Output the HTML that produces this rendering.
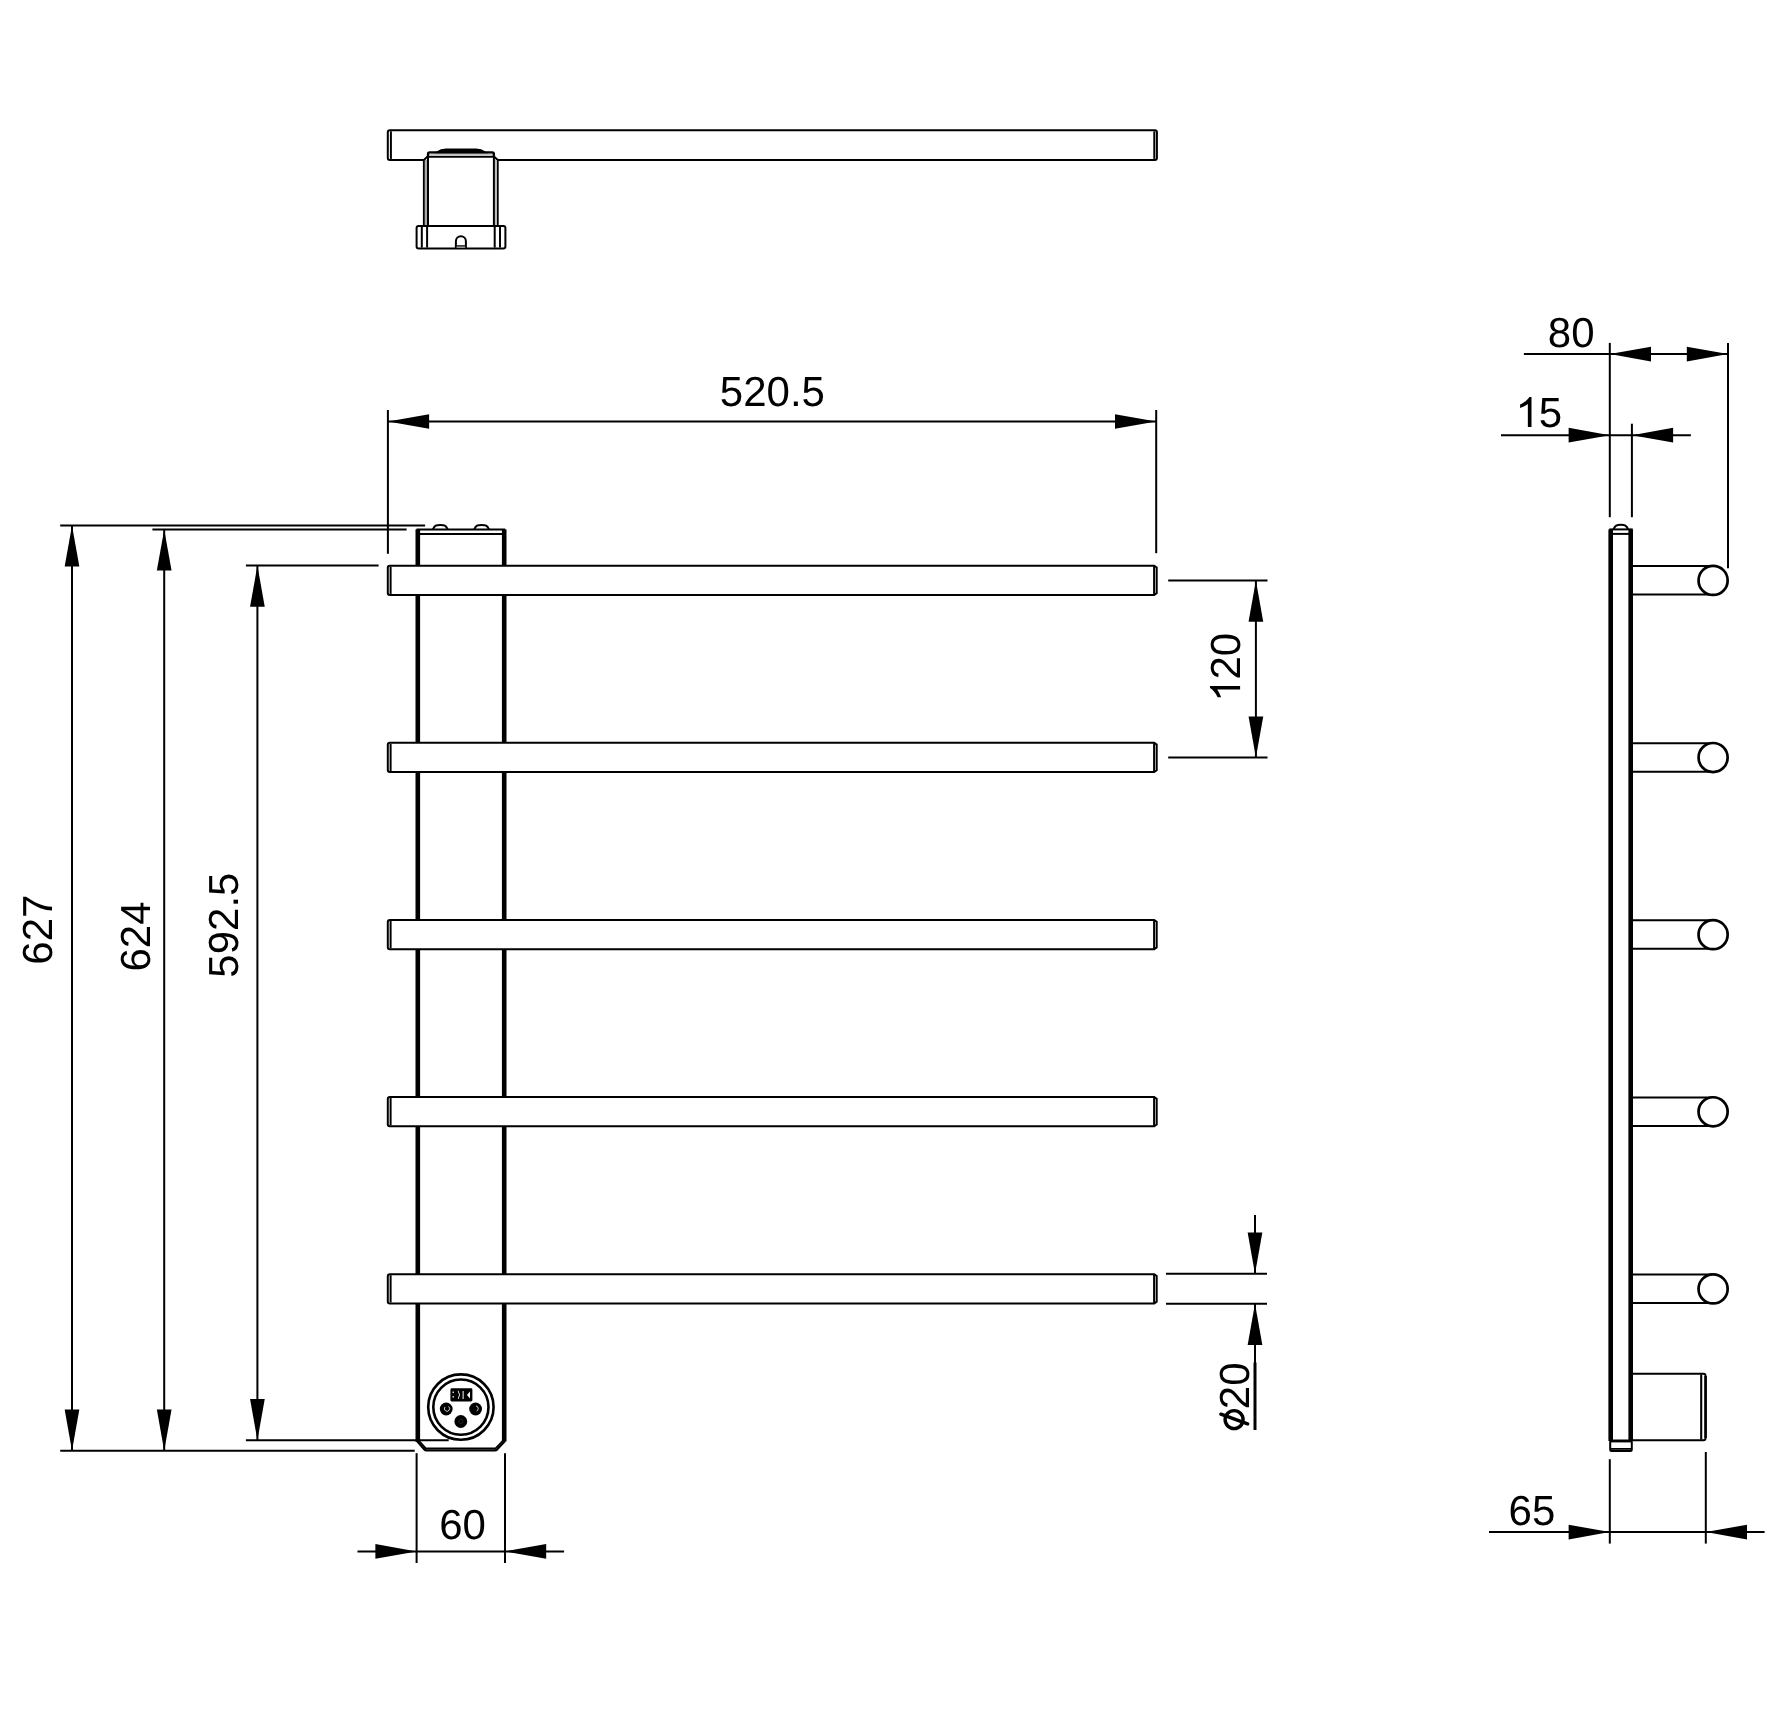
<!DOCTYPE html>
<html><head><meta charset="utf-8"><title>Drawing</title>
<style>
html,body{margin:0;padding:0;background:#fff;}
svg{display:block;}
svg line{stroke:#000;}
svg{stroke-width:2.0;}
.o{fill:none;stroke:#000;}
.f{fill:#000;stroke:none;}
text{font-family:"Liberation Sans",sans-serif;font-size:42px;fill:#000;text-rendering:geometricPrecision;}
</style></head>
<body>
<svg style="will-change:transform" width="1770" height="1711" viewBox="0 0 1770 1711">
<rect x="0" y="0" width="1770" height="1711" fill="#fff"/>
<path d="M389.8,130.3 H1154.9 Q1156.9,130.3 1156.9,132.3 V157.9 Q1156.9,159.9 1154.9,159.9 H389.8 Q387.8,159.9 387.8,157.9 V132.3 Q387.8,130.3 389.8,130.3 Z" class="o"/>
<line x1="390.90" y1="131.30" x2="390.90" y2="158.90" stroke-width="2.0"/>
<line x1="1154.30" y1="131.30" x2="1154.30" y2="158.90" stroke-width="2.0"/>
<rect x="425" y="150" width="72" height="77" fill="#fff" stroke="none"/>
<path d="M423.9,226 V160 L427.6,156.6" class="o"/>
<path d="M497.7,226 V160 L494.2,156.6" class="o"/>
<rect x="424.8" y="160" width="2.3" height="66" fill="#a8a8a8"/>
<rect x="494.8" y="160" width="2.0" height="66" fill="#bdbdbd"/>
<rect x="429" y="153.4" width="64" height="2.6" fill="#c4c4c4"/>
<line x1="428.00" y1="153.50" x2="428.00" y2="226.00" stroke-width="2.0"/>
<line x1="493.90" y1="153.50" x2="493.90" y2="226.00" stroke-width="2.0"/>
<path d="M428.0,157 V154 Q428.0,152.3 429.7,152.3 H492.2 Q493.9,152.3 493.9,154 V157" class="o" stroke-width="2.3"/>
<line x1="428.00" y1="156.90" x2="493.90" y2="156.90" stroke-width="1.8"/>
<path d="M436.5,152.4 Q441,149.2 446,149.2 H476 Q481,149.2 485.5,152.4 Z" fill="#000" stroke="#000" stroke-width="1.5"/>
<line x1="446" y1="151.2" x2="476" y2="151.2" stroke="#444" stroke-width="0.8"/>
<rect x="416.6" y="226.1" width="88.8" height="22.4" rx="2" class="o"/>
<line x1="421.80" y1="227.00" x2="421.80" y2="247.60" stroke-width="2.0"/>
<line x1="427.10" y1="227.00" x2="427.10" y2="247.60" stroke-width="2.0"/>
<line x1="494.70" y1="227.00" x2="494.70" y2="247.60" stroke-width="2.0"/>
<line x1="500.00" y1="227.00" x2="500.00" y2="247.60" stroke-width="2.0"/>
<path d="M455.9,248.5 V241.3 A5,5 0 0 1 465.9,241.3 V248.5" class="o"/>
<line x1="456.00" y1="246.00" x2="465.80" y2="246.00" stroke-width="1.5"/>
<rect x="456.5" y="246.6" width="8.8" height="1.2" fill="#9a9a9a"/>
<rect x="415.5" y="529.4" width="4.6" height="912.6" class="f"/>
<rect x="501.9" y="529.4" width="4.6" height="912.1" class="f"/>
<line x1="416.50" y1="529.40" x2="505.20" y2="529.40" stroke-width="2.0"/>
<line x1="419.00" y1="533.90" x2="503.00" y2="533.90" stroke-width="2.0"/>
<path d="M432.90000000000003,529.4 C434.7,525.5 436.1,525.0 440.3,525.0 C444.5,525.0 445.90000000000003,525.5 447.7,529.4" class="o"/>
<path d="M474.20000000000005,529.4 C476.0,525.5 477.40000000000003,525.0 481.6,525.0 C485.8,525.0 487.20000000000005,525.5 489.0,529.4" class="o"/>
<path d="M417.0,1441.0 L424.2,1449.2 Q425.2,1450.4 426.6,1450.4 H495.0 Q496.2,1450.4 497.0,1449.6 L505.0,1441.0" class="o" stroke-width="2.2" stroke-linejoin="round"/>
<path d="M419.2,1441.0 L425.8,1448.3 H495.6 L502.6,1441.0" class="o" stroke-width="1.8"/>
<path d="M389.8,565.65 H1154.2 L1156.7,567.45 V593.15 L1154.2,594.95 H389.8 Q387.8,594.95 387.8,592.95 V567.65 Q387.8,565.65 389.8,565.65 Z" class="o" style="fill:#fff"/>
<line x1="390.60" y1="566.65" x2="390.60" y2="593.95" stroke-width="2.0"/>
<line x1="1154.10" y1="565.65" x2="1154.10" y2="594.95" stroke-width="2.0"/>
<path d="M389.8,742.78 H1154.2 L1156.7,744.58 V770.28 L1154.2,772.08 H389.8 Q387.8,772.08 387.8,770.08 V744.78 Q387.8,742.78 389.8,742.78 Z" class="o" style="fill:#fff"/>
<line x1="390.60" y1="743.78" x2="390.60" y2="771.08" stroke-width="2.0"/>
<line x1="1154.10" y1="742.78" x2="1154.10" y2="772.08" stroke-width="2.0"/>
<path d="M389.8,919.91 H1154.2 L1156.7,921.71 V947.41 L1154.2,949.21 H389.8 Q387.8,949.21 387.8,947.21 V921.91 Q387.8,919.91 389.8,919.91 Z" class="o" style="fill:#fff"/>
<line x1="390.60" y1="920.91" x2="390.60" y2="948.21" stroke-width="2.0"/>
<line x1="1154.10" y1="919.91" x2="1154.10" y2="949.21" stroke-width="2.0"/>
<path d="M389.8,1097.04 H1154.2 L1156.7,1098.84 V1124.54 L1154.2,1126.34 H389.8 Q387.8,1126.34 387.8,1124.34 V1099.04 Q387.8,1097.04 389.8,1097.04 Z" class="o" style="fill:#fff"/>
<line x1="390.60" y1="1098.04" x2="390.60" y2="1125.34" stroke-width="2.0"/>
<line x1="1154.10" y1="1097.04" x2="1154.10" y2="1126.34" stroke-width="2.0"/>
<path d="M389.8,1274.17 H1154.2 L1156.7,1275.97 V1301.67 L1154.2,1303.47 H389.8 Q387.8,1303.47 387.8,1301.47 V1276.17 Q387.8,1274.17 389.8,1274.17 Z" class="o" style="fill:#fff"/>
<line x1="390.60" y1="1275.17" x2="390.60" y2="1302.47" stroke-width="2.0"/>
<line x1="1154.10" y1="1274.17" x2="1154.10" y2="1303.47" stroke-width="2.0"/>
<circle cx="460.9" cy="1407.1" r="32.7" class="o" stroke-width="2.6"/>
<circle cx="460.9" cy="1407.1" r="27.6" class="o" stroke-width="2.6"/>
<rect x="450.4" y="1388.3" width="22.0" height="13.1" rx="1.4" class="f"/>
<g fill="#fff" stroke="none"><rect x="452.6" y="1391.5" width="1.2" height="1.6"/><rect x="452.6" y="1396" width="1.2" height="1.6"/><path d="M458.5,1390.8 L460,1394.8 L458.6,1399 L457.8,1399 L459.1,1394.8 L457.7,1390.8 Z"/><rect x="462.6" y="1391" width="1.0" height="8"/><path d="M470,1391.5 L467,1395 L470,1398.5 Z"/></g>
<circle cx="446.2" cy="1409.0" r="6.4" class="f"/>
<circle cx="475.6" cy="1409.0" r="6.4" class="f"/>
<circle cx="460.8" cy="1421.5" r="6.4" class="f"/>
<path d="M445,1407 A2.6,2.6 0 1 0 448.5,1406.5" fill="none" stroke="#fff" stroke-width="0.8"/>
<path d="M476,1406 A2.6,2.6 0 0 1 476.6,1411" fill="none" stroke="#fff" stroke-width="0.8"/>
<circle cx="460.9" cy="1421.4" r="2.3" fill="none" stroke="#333" stroke-width="0.6"/>
<rect x="1608.4" y="529.4" width="4.6" height="911.6" class="f"/>
<rect x="1628.4" y="529.4" width="4.6" height="911.6" class="f"/>
<line x1="1609.30" y1="529.40" x2="1632.70" y2="529.40" stroke-width="2.0"/>
<line x1="1612.00" y1="533.90" x2="1630.00" y2="533.90" stroke-width="2.0"/>
<path d="M1613.3999999999999,529.4 C1615.2,525.3 1616.6,524.8 1620.8,524.8 C1625.0,524.8 1626.3999999999999,525.3 1628.2,529.4" class="o"/>
<rect x="1610.2" y="1440.4" width="21.6" height="10.6" rx="1.2" class="o"/>
<line x1="1610.50" y1="1441.20" x2="1631.80" y2="1441.20" stroke-width="2.4"/>
<line x1="1611.00" y1="1448.90" x2="1631.00" y2="1448.90" stroke-width="1.8"/>
<line x1="1632.70" y1="566.10" x2="1713.00" y2="566.10" stroke-width="2.0"/>
<line x1="1632.70" y1="594.50" x2="1713.00" y2="594.50" stroke-width="2.0"/>
<circle cx="1713.1" cy="580.40" r="14.55" class="o" style="fill:#fff" stroke-width="2.7"/>
<line x1="1632.70" y1="743.23" x2="1713.00" y2="743.23" stroke-width="2.0"/>
<line x1="1632.70" y1="771.63" x2="1713.00" y2="771.63" stroke-width="2.0"/>
<circle cx="1713.1" cy="757.53" r="14.55" class="o" style="fill:#fff" stroke-width="2.7"/>
<line x1="1632.70" y1="920.36" x2="1713.00" y2="920.36" stroke-width="2.0"/>
<line x1="1632.70" y1="948.76" x2="1713.00" y2="948.76" stroke-width="2.0"/>
<circle cx="1713.1" cy="934.66" r="14.55" class="o" style="fill:#fff" stroke-width="2.7"/>
<line x1="1632.70" y1="1097.49" x2="1713.00" y2="1097.49" stroke-width="2.0"/>
<line x1="1632.70" y1="1125.89" x2="1713.00" y2="1125.89" stroke-width="2.0"/>
<circle cx="1713.1" cy="1111.79" r="14.55" class="o" style="fill:#fff" stroke-width="2.7"/>
<line x1="1632.70" y1="1274.62" x2="1713.00" y2="1274.62" stroke-width="2.0"/>
<line x1="1632.70" y1="1303.02" x2="1713.00" y2="1303.02" stroke-width="2.0"/>
<circle cx="1713.1" cy="1288.92" r="14.55" class="o" style="fill:#fff" stroke-width="2.7"/>
<path d="M1632.7,1373.8 H1703.5 Q1705.5,1373.8 1705.5,1375.8 V1438.3 Q1705.5,1440.3 1703.5,1440.3 H1632.7" class="o"/>
<line x1="1705.6" y1="1376" x2="1705.6" y2="1438" stroke-width="2.5"/>
<line x1="1701.20" y1="1374.50" x2="1701.20" y2="1439.60" stroke-width="2.1"/>
<line x1="387.90" y1="410.00" x2="387.90" y2="553.80" stroke-width="2.0"/>
<line x1="1156.20" y1="410.00" x2="1156.20" y2="553.20" stroke-width="2.0"/>
<line x1="387.90" y1="421.50" x2="1156.20" y2="421.50" stroke-width="2.0"/>
<polygon points="387.90,421.50 429.10,414.15 429.10,428.85" class="f"/>
<polygon points="1156.20,421.50 1115.00,414.15 1115.00,428.85" class="f"/>
<text x="772.40" y="405.80" text-anchor="middle">520.5</text>
<line x1="60.20" y1="525.40" x2="425.10" y2="525.40" stroke-width="2.0"/>
<line x1="60.20" y1="1450.70" x2="414.70" y2="1450.70" stroke-width="2.0"/>
<line x1="72.00" y1="525.40" x2="72.00" y2="1450.70" stroke-width="2.0"/>
<polygon points="72.00,525.40 64.65,566.60 79.35,566.60" class="f"/>
<polygon points="72.00,1450.70 64.65,1409.50 79.35,1409.50" class="f"/>
<text x="0" y="0" text-anchor="middle" transform="translate(51.80,929.70) rotate(-90)">627</text>
<line x1="152.40" y1="529.40" x2="406.60" y2="529.40" stroke-width="2.0"/>
<line x1="164.20" y1="529.40" x2="164.20" y2="1450.70" stroke-width="2.0"/>
<polygon points="164.20,529.40 156.85,570.60 171.55,570.60" class="f"/>
<polygon points="164.20,1450.70 156.85,1409.50 171.55,1409.50" class="f"/>
<text x="0" y="0" text-anchor="middle" transform="translate(150.00,936.50) rotate(-90)">624</text>
<line x1="245.90" y1="565.60" x2="378.60" y2="565.60" stroke-width="2.0"/>
<line x1="245.90" y1="1440.30" x2="448.70" y2="1440.30" stroke-width="2.0"/>
<line x1="257.40" y1="565.60" x2="257.40" y2="1440.30" stroke-width="2.0"/>
<polygon points="257.40,565.60 250.05,606.80 264.75,606.80" class="f"/>
<polygon points="257.40,1440.30 250.05,1399.10 264.75,1399.10" class="f"/>
<text x="0" y="0" text-anchor="middle" transform="translate(237.90,925.10) rotate(-90)">592.5</text>
<line x1="1168.20" y1="580.50" x2="1267.50" y2="580.50" stroke-width="2.0"/>
<line x1="1168.20" y1="757.60" x2="1267.50" y2="757.60" stroke-width="2.0"/>
<line x1="1255.90" y1="580.50" x2="1255.90" y2="757.60" stroke-width="2.0"/>
<polygon points="1255.90,580.50 1248.55,621.70 1263.25,621.70" class="f"/>
<polygon points="1255.90,757.60 1248.55,716.40 1263.25,716.40" class="f"/>
<g transform="translate(1240.10,667.90) rotate(-90)"><path d="M0.381,0 V-0.716 H0.329 C0.287,-0.65 0.207,-0.575 0.1095,-0.536 V-0.452 C0.182,-0.478 0.247,-0.512 0.294,-0.548 V0 Z" transform="translate(-34.03,0) scale(42)" class="f"/><text x="-11.68" y="0" text-anchor="start">20</text></g>
<line x1="1166.00" y1="1273.80" x2="1267.00" y2="1273.80" stroke-width="2.0"/>
<line x1="1166.00" y1="1303.80" x2="1267.00" y2="1303.80" stroke-width="2.0"/>
<line x1="1255.00" y1="1215.10" x2="1255.00" y2="1273.80" stroke-width="2.0"/>
<polygon points="1255.00,1273.80 1247.65,1232.60 1262.35,1232.60" class="f"/>
<line x1="1255.00" y1="1303.80" x2="1255.00" y2="1363.00" stroke-width="2.0"/>
<polygon points="1255.00,1303.80 1247.65,1345.00 1262.35,1345.00" class="f"/>
<line x1="1255.00" y1="1362.50" x2="1255.00" y2="1430.00" stroke-width="3.0"/>
<text x="0" y="0" text-anchor="start" transform="translate(1248.90,1409.20) rotate(-90)">20</text>
<circle cx="1234.1" cy="1419.6" r="9.0" fill="none" stroke="#000" stroke-width="3.4"/>
<line x1="1220.9" y1="1414.2" x2="1247.6" y2="1423.8" stroke="#000" stroke-width="3.5" stroke-linecap="round"/>
<line x1="416.60" y1="1453.20" x2="416.60" y2="1563.00" stroke-width="2.0"/>
<line x1="505.00" y1="1453.20" x2="505.00" y2="1563.00" stroke-width="2.0"/>
<line x1="357.50" y1="1551.40" x2="564.10" y2="1551.40" stroke-width="2.0"/>
<polygon points="416.60,1551.40 375.40,1544.05 375.40,1558.75" class="f"/>
<polygon points="505.00,1551.40 546.20,1544.05 546.20,1558.75" class="f"/>
<text x="462.50" y="1539.30" text-anchor="middle">60</text>
<line x1="1609.80" y1="342.90" x2="1609.80" y2="517.20" stroke-width="2.0"/>
<line x1="1728.00" y1="342.90" x2="1728.00" y2="568.20" stroke-width="2.0"/>
<line x1="1523.90" y1="354.10" x2="1728.00" y2="354.10" stroke-width="2.0"/>
<polygon points="1609.80,354.10 1651.00,346.75 1651.00,361.45" class="f"/>
<polygon points="1728.00,354.10 1686.80,346.75 1686.80,361.45" class="f"/>
<text x="1571.20" y="346.80" text-anchor="middle">80</text>
<line x1="1631.90" y1="423.70" x2="1631.90" y2="517.20" stroke-width="2.0"/>
<line x1="1501.00" y1="435.20" x2="1690.90" y2="435.20" stroke-width="2.0"/>
<polygon points="1609.80,435.20 1568.60,427.85 1568.60,442.55" class="f"/>
<polygon points="1631.90,435.20 1673.10,427.85 1673.10,442.55" class="f"/>
<g transform="translate(1538.85,427.00)"><path d="M0.381,0 V-0.716 H0.329 C0.287,-0.65 0.207,-0.575 0.1095,-0.536 V-0.452 C0.182,-0.478 0.247,-0.512 0.294,-0.548 V0 Z" transform="translate(-23.35,0) scale(42)" class="f"/><text x="0.00" y="0" text-anchor="start">5</text></g>
<line x1="1609.80" y1="1459.20" x2="1609.80" y2="1543.60" stroke-width="2.0"/>
<line x1="1705.80" y1="1452.00" x2="1705.80" y2="1543.60" stroke-width="2.0"/>
<line x1="1489.00" y1="1532.10" x2="1764.60" y2="1532.10" stroke-width="2.0"/>
<polygon points="1609.80,1532.10 1568.60,1524.75 1568.60,1539.45" class="f"/>
<polygon points="1705.80,1532.10 1747.00,1524.75 1747.00,1539.45" class="f"/>
<text x="1531.90" y="1524.50" text-anchor="middle">65</text>
</svg>
</body></html>
